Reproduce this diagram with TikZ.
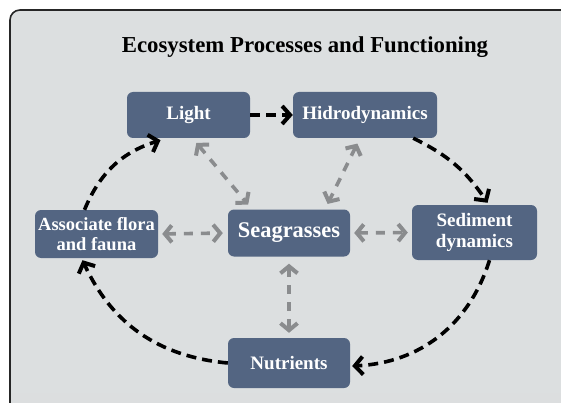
\documentclass[tikz,border=0pt]{standalone}
\usepackage{fontspec}
\setmainfont{Liberation Serif}
\usetikzlibrary{arrows.meta}
\definecolor{boxblue}{HTML}{536582}
\definecolor{panel}{HTML}{DCDFE0}
\definecolor{arrowgray}{HTML}{8A8C8E}
\begin{document}
\begin{tikzpicture}[x=1pt,y=-1pt,
	box/.style={
		shape=rectangle,
		rounded corners=6pt,
		fill=boxblue, text=white,
		font=\bfseries\fontsize{19}{21}\selectfont,
		align=center, inner sep=0pt},
	cyc/.style={
		draw=black, line width=3.6pt,
		dash pattern=on 10pt off 6pt,
		-{Straight Barb[length=8pt,width=18pt,line width=4pt]}},
	link/.style={
		draw=arrowgray, line width=3.6pt,
		dash pattern=on 9pt off 8pt,
		{Straight Barb[length=7pt,width=17pt,line width=4pt]}-{Straight Barb[length=7pt,width=17pt,line width=4pt]}}]
	\useasboundingbox (0,0) rectangle (561,403);
	\clip (0,0) rectangle (561,403);
	\draw [fill=panel, draw=black!85, line width=1.6pt, rounded corners=10pt] (10,10) rectangle (590,430);
	\fill [black!3!panel!85!white] (11,393) rectangle (561,403);
	\node (t) at (305,47) {\bfseries\fontsize{22.8}{24}\selectfont Ecosystem Processes and Functioning};
	\node [box,minimum width=123pt,minimum height=46pt] (v1) at (188.5,115) {Light};
	\node [box,minimum width=144pt,minimum height=46pt] (v2) at (365,115) {Hidrodynamics};
	\node [box,minimum width=125pt,minimum height=55pt] (v3) at (474.5,232.5) {Sediment\\dynamics};
	\node [box,minimum width=122pt,minimum height=50pt] (v4) at (289,363) {Nutrients};
	\node [box,minimum width=123pt,minimum height=48pt,font=\bfseries\fontsize{18.5}{19.5}\selectfont] (v5) at (96.5,234) {Associate flora\\and fauna};
	\node [box,minimum width=122pt,minimum height=47pt,font=\bfseries\fontsize{22.4}{24}\selectfont] (v6) at (289,233) {Seagrasses};
	% cycle
	\path (v1.east) edge [cyc] (v2.west);
	\path ([xshift=-24pt]v2.south east) edge [cyc,bend left=15] ([xshift=13pt,yshift=2pt]v3.north);
	\path ([xshift=15pt]v3.south) edge [cyc,bend left=35] ([xshift=2pt,yshift=-3pt]v4.east);
	\path (v4.west) edge [cyc,bend left=30] ([xshift=-14pt,yshift=-2pt]v5.south);
	\path ([xshift=-12pt]v5.north) edge [cyc,bend left=25] ([xshift=-28pt,yshift=-2pt]v1.south);
	% links
	\path ([xshift=4pt]v1.south) edge [link,shorten <=6pt,shorten >=6pt] ([xshift=-37pt]v6.north);
	\path ([xshift=-5pt]v2.south) edge [link,shorten <=6pt,shorten >=6pt] ([xshift=36pt]v6.north);
	\path (v5.east) edge [link,shorten <=4pt,shorten >=5pt] (v6.west);
	\path (v6.east) edge [link,shorten <=4pt,shorten >=4pt] (v3.west);
	\path (v6.south) edge [link,shorten <=7pt,shorten >=5pt] (v4.north);
\end{tikzpicture}
\end{document}
